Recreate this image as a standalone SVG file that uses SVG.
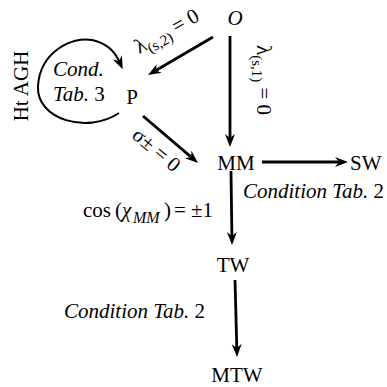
<svg xmlns="http://www.w3.org/2000/svg" width="387" height="387" viewBox="0 0 387 387">
<style>
text{font-family:'Liberation Serif','DejaVu Serif',serif;font-size:21px;fill:#000}
.it{font-style:italic}
.sub{font-size:15px}
.edge{stroke:#000;stroke-width:2.8;fill:none;marker-end:url(#ah)}
.loop{stroke-width:2}
</style>
<defs>
<marker id="ah" markerUnits="userSpaceOnUse" markerWidth="30" markerHeight="30" refX="0" refY="0" orient="auto" overflow="visible">
<path d="M-4,-5 L9,0 L-4,5 L0,0 Z" fill="#000"/>
</marker>
</defs>
<rect width="387" height="387" fill="#fff"/>
<g id="connectors">
<line class="edge" x1="213" y1="37" x2="155.8" y2="70.5"/>
<line class="edge" x1="230" y1="36" x2="230" y2="138"/>
<line class="edge" x1="143" y1="116" x2="191.2" y2="157.1"/>
<line class="edge" x1="262" y1="162" x2="339" y2="162"/>
<line class="edge" x1="231" y1="171" x2="231.9" y2="236"/>
<line class="edge" x1="235" y1="280" x2="236.8" y2="348"/>
<path class="edge loop" d="M119,113 C88,134 36,120 38,86 C40,52 72,36 92,40 C106,43 114,50 119,61"/>
</g>
<g id="node-O"><text class="it" x="235" y="25" text-anchor="middle">O</text></g>
<g id="node-P"><text x="132" y="104" text-anchor="middle">P</text></g>
<g id="node-MM"><text x="236" y="170" text-anchor="middle">MM</text></g>
<g id="node-SW"><text x="350" y="170">SW</text></g>
<g id="node-TW"><text x="233" y="272" text-anchor="middle">TW</text></g>
<g id="node-MTW"><text x="237" y="382" text-anchor="middle">MTW</text></g>
<g id="labels">
<text transform="translate(170,37) rotate(-29)" text-anchor="middle">λ<tspan class="sub" dy="5">(s,2)</tspan><tspan dy="-5"> = 0</tspan></text>
<text transform="translate(257,80) rotate(90)" text-anchor="middle">λ<tspan class="sub" dy="5">(s,1)</tspan><tspan dy="-5"> = 0</tspan></text>
<text transform="translate(152,155) rotate(40)" text-anchor="middle">σ± = 0</text>
<text transform="translate(28,86) rotate(-90)" text-anchor="middle">Ht AGH</text>
<text class="it" x="53" y="76">Cond.</text>
<text x="53" y="101"><tspan class="it">Tab.</tspan> 3</text>
<text x="243" y="198"><tspan class="it">Condition Tab.</tspan> 2</text>
<text y="217"><tspan x="83">cos</tspan><tspan x="115">(</tspan><tspan class="it" x="122">χ</tspan><tspan class="it" x="133" dy="6" style="font-size:16px">MM</tspan><tspan x="164" dy="-6">)</tspan><tspan x="174">=</tspan><tspan x="191">±1</tspan></text>
<text x="64" y="318"><tspan class="it">Condition Tab.</tspan> 2</text>
</g>
</svg>
